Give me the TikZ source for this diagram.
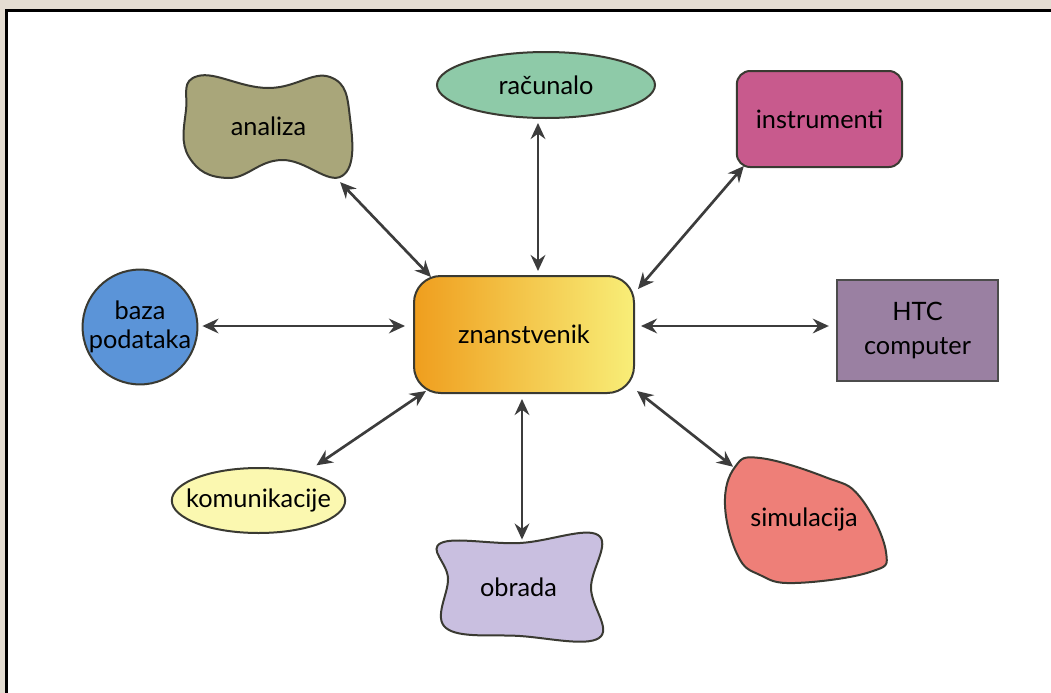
\documentclass[tikz,border=0pt]{standalone}
\usepackage{fontspec}
\setmainfont{Lato}
\usetikzlibrary{arrows.meta,shapes.geometric}
\definecolor{bgc}{HTML}{E4DDD2}
\definecolor{anC}{HTML}{A9A67A}
\definecolor{racC}{HTML}{8ECAA8}
\definecolor{insC}{HTML}{C85A8D}
\definecolor{bazC}{HTML}{5B94D8}
\definecolor{htcC}{HTML}{9A80A2}
\definecolor{komC}{HTML}{FBF8B0}
\definecolor{obrC}{HTML}{C9BFE0}
\definecolor{simC}{HTML}{EE7F78}
\definecolor{znL}{HTML}{EF9E1E}
\definecolor{znR}{HTML}{F8EE78}
\definecolor{edge}{HTML}{3A3A32}
\definecolor{arrC}{HTML}{3C3C3C}
\tikzset{
  shp/.style={draw=edge, line width=1.5pt},
  lbl/.style={font=\fontsize{19}{22}\selectfont, inner sep=0pt, align=center},
  arr/.style={draw=arrC, line width=2pt, {Stealth[length=12pt,width=11pt,inset=4pt]}-{Stealth[length=12pt,width=11pt,inset=4pt]}}
}
\begin{document}
\begin{tikzpicture}[x=0.75pt,y=-0.75pt]
\fill[bgc] (0,0) rectangle (1051,693);
\useasboundingbox (0,0) rectangle (1051,693);
\fill[white] (6.5,10.5) rectangle (1051,693);
\draw[line width=2.2pt] (6.5,693) |- (1051,10.5);

% blobs
\filldraw[shp, fill=anC] plot[smooth cycle, tension=0.75] coordinates {(198,76) (268,88) (330,77) (350,118) (342,176) (282,160) (228,178) (189,157) (186,110)};
\filldraw[shp, fill=obrC] plot[smooth cycle, tension=0.65] coordinates {(441,543) (520,543) (598,535) (591,588) (599,638) (520,636) (446,628) (448,578)};
\filldraw[shp, fill=simC] plot[smooth cycle, tension=0.7] coordinates {(735,467) (760,458) (825,477) (860,497) (886,552) (870,572) (795,583) (760,575) (738,556) (725,505)};

\node[lbl, minimum width=125pt, minimum height=80pt] (an) at (268.5,126.5) {analiza};
\node[lbl, minimum width=122pt, minimum height=79pt] (obr) at (518.5,587.5) {obrada};
\node[lbl, minimum width=121pt, minimum height=96pt] (sim) at (804,519) {simulacija};

\node[lbl, shp, fill=racC, ellipse, minimum width=163.5pt, minimum height=49.5pt] (rac) at (546,85) {\makebox[0pt]{računalo}};
\node[lbl, shp, fill=komC, ellipse, minimum width=130pt, minimum height=48.75pt] (kom) at (258.5,500.5) {\makebox[0pt]{komunikacije}};
\node[lbl, shp, fill=bazC, circle, minimum size=85pt] (baz) at (140,327) {baza\\podataka};
\node[lbl, shp, fill=insC, rectangle, rounded corners=10pt, minimum width=124pt, minimum height=72pt] (ins) at (819.5,119) {instrumenti};
\node[lbl, shp, draw=black!70, fill=htcC, rectangle, minimum width=121pt, minimum height=76pt, font=\fontsize{19}{26}\selectfont] (htc) at (917.5,330.5) {HTC\\computer};
\node[lbl, shp, left color=znL, right color=znR, rectangle, rounded corners=20pt, minimum width=165pt, minimum height=87.75pt] (zn) at (524,334.5) {znanstvenik};

% connectors
\draw[arr] ([shift={(-12,2)}]an.south east) -- ([shift={(18,2)}]zn.north west);
\draw[arr] ([shift={(-8,4)}]rac.south) -- ([shift={(14,-4)}]zn.north);
\draw[arr] ([shift={(8,-2)}]ins.south west) -- ([shift={(3,14)}]zn.north east);
\draw[arr] ([shift={(4,-1)}]baz.east) -- ([shift={(-8,-8.5)}]zn.west);
\draw[arr] ([shift={(6,-8.5)}]zn.east) -- ([shift={(-7,-4.5)}]htc.west);
\draw[arr] ([shift={(-4,-11.5)}]kom.north east) -- ([shift={(13,-3)}]zn.south west);
\draw[arr] ([shift={(-2,5)}]zn.south) -- ([shift={(3.5,5)}]obr.north);
\draw[arr] ([shift={(2,-3)}]zn.south east) -- ([shift={(10,12)}]sim.north west);
\end{tikzpicture}
\end{document}
